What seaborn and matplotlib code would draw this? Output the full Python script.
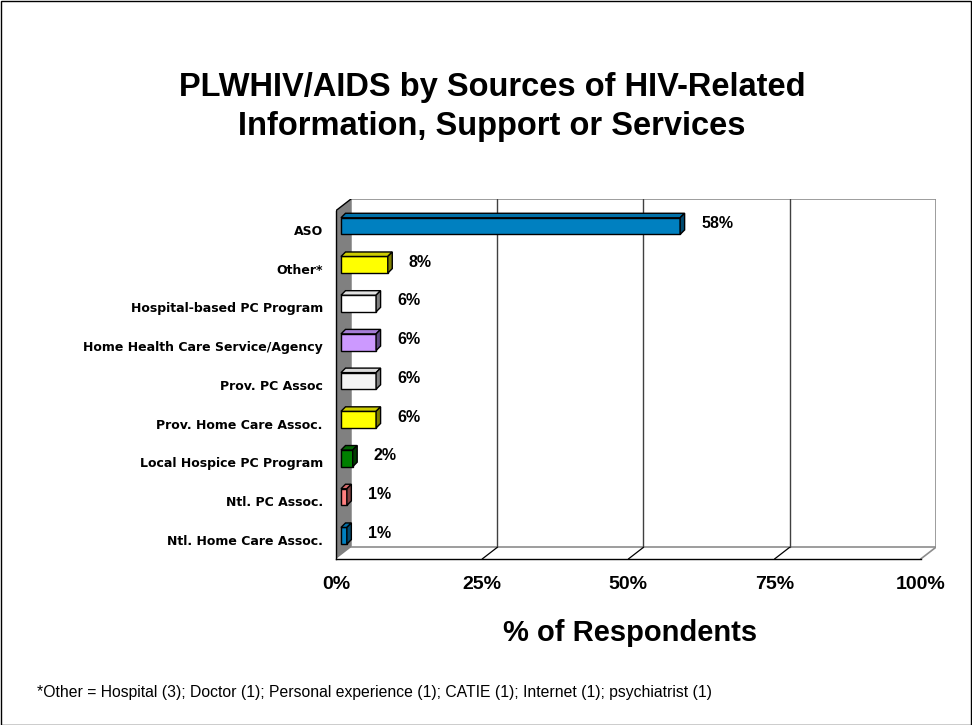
import numpy as np
import matplotlib
matplotlib.use("Agg")
import matplotlib.pyplot as plt
from matplotlib.patches import Polygon, Rectangle
from matplotlib.transforms import offset_copy
import seaborn as sns

# ---- data ----
categories = [
    "ASO",
    "Other*",
    "Hospital-based PC Program",
    "Home Health Care Service/Agency",
    "Prov. PC Assoc",
    "Prov. Home Care Assoc.",
    "Local Hospice PC Program",
    "Ntl. PC Assoc.",
    "Ntl. Home Care Assoc.",
]
percent = [58, 8, 6, 6, 6, 6, 2, 1, 1]
front_colors = ["#0080C0", "#FFFF00", "#FFFFFF", "#CC99FF", "#F3F3F3",
                "#FFFF00", "#008000", "#FF8080", "#0080C0"]
top_colors = ["#0070A8", "#CCCC00", "#E2E2E2", "#A67DD6", "#DADADA",
              "#CCCC00", "#006400", "#D46A6A", "#0070A8"]
side_colors = ["#004A70", "#808000", "#808080", "#5E4A80", "#808080",
               "#808000", "#003C00", "#804040", "#004A70"]
x_ticks = [0, 25, 50, 75, 100]
x_tick_labels = ["0%", "25%", "50%", "75%", "100%"]
title = "PLWHIV/AIDS by Sources of HIV-Related\nInformation, Support or Services"
x_title = "% of Respondents"
footnote = ("*Other = Hospital (3); Doctor (1); Personal experience (1); "
            "CATIE (1); Internet (1); psychiatrist (1)")

# ---- layout (pixels) ----
W, H = 972, 725
X0_PX, X100_PX = 336.0, 920.7        # front plane 0% and 100%
TOP_PX, BOTTOM_PX = 210.6, 559.0     # front plane category extent
WALL_D = (15.0, 11.6)                # depth of the 3-D box (right, up)
BAR_D = (4.5, 4.5)                   # depth of each bar block
BAR_POS = 1 / 3                      # bar front sits this far into the box

sns.set_style("white")
plt.rcParams["font.family"] = ["Liberation Sans", "DejaVu Sans"]
for key in ("text.color", "axes.labelcolor", "xtick.color", "ytick.color"):
    plt.rcParams[key] = "black"

fig = plt.figure(figsize=(W / 100, H / 100), dpi=100)
ax_w = X100_PX - X0_PX + WALL_D[0]
ax_h = BOTTOM_PX - TOP_PX + WALL_D[1]
ax = fig.add_axes([X0_PX / W, 1 - BOTTOM_PX / H, ax_w / W, ax_h / H])
ax.set_facecolor("none")

n = len(categories)
sx = (X100_PX - X0_PX) / 100.0
sy = (BOTTOM_PX - TOP_PX) / n


def dpx(px, py):
    """Pixel offset (right, up) -> data offset."""
    return px / sx, -py / sy


sns.barplot(x=percent, y=categories, hue=categories,
            palette=dict(zip(categories, front_colors)), orient="h",
            width=0.43, saturation=1, edgecolor="black", linewidth=1.0,
            legend=False, ax=ax)
bars = list(ax.patches)

ax.set_xlim(0, ax_w / sx)
ax.set_ylim(n - 0.5, n - 0.5 - ax_h / sy)
ax.autoscale(False)

# ---- 3-D box: back wall, floor, side wall ----
wdx, wdy = dpx(*WALL_D)
ax.add_patch(Rectangle((wdx, -0.5 + wdy), 100, n, facecolor="white",
                       edgecolor="#8C8C8C", lw=1.2, zorder=0.2))
for v in x_ticks[1:-1]:
    ax.plot([v + wdx] * 2, [-0.5 + wdy, n - 0.5 + wdy], color="#404040",
            lw=1.0, zorder=0.3)
    ax.plot([v, v + wdx], [n - 0.5, n - 0.5 + wdy], color="black",
            lw=0.9, zorder=0.3)
ax.plot([100, 100 + wdx], [n - 0.5, n - 0.5 + wdy], color="#8C8C8C",
        lw=1.2, zorder=0.3)
ax.add_patch(Polygon([(0, -0.5), (wdx, -0.5 + wdy), (wdx, n - 0.5 + wdy),
                      (0, n - 0.5)], closed=True, facecolor="#808080",
                     edgecolor="none", zorder=0.4))
ax.plot([0, wdx], [-0.5, -0.5 + wdy], color="black", lw=1.0, zorder=0.5)

# ---- bars as blocks ----
shift = offset_copy(ax.transData, fig=fig, x=WALL_D[0] * BAR_POS,
                    y=WALL_D[1] * BAR_POS, units="dots")
bdx, bdy = dpx(*BAR_D)
for p in bars:
    p.set_transform(shift)
    p.set_zorder(3)
    x0, w = p.get_x(), p.get_width()
    y0, h = p.get_y(), p.get_height()
    i = int(round(y0 + h / 2))
    top = Polygon([(x0, y0), (x0 + w, y0), (x0 + w + bdx, y0 + bdy),
                   (x0 + bdx, y0 + bdy)], closed=True,
                  facecolor=top_colors[i], edgecolor="black", lw=1.0,
                  transform=shift, zorder=3)
    side = Polygon([(x0 + w, y0), (x0 + w + bdx, y0 + bdy),
                    (x0 + w + bdx, y0 + h + bdy), (x0 + w, y0 + h)],
                   closed=True, facecolor=side_colors[i], edgecolor="black",
                   lw=1.0, transform=shift, zorder=3)
    ax.add_patch(top)
    ax.add_patch(side)

for i, v in enumerate(percent):
    ax.annotate(f"{v}%", xy=(v, i), xytext=(26, 6.5),
                textcoords="offset pixels", ha="left", va="center",
                fontsize=11.5, fontweight="bold", color="black", zorder=4)

# ---- axes ----
ax.set_xlabel("")
ax.set_ylabel("")
ax.grid(False)
for s in ("top", "right"):
    ax.spines[s].set_visible(False)
ax.spines["left"].set_bounds(-0.5, n - 0.5)
ax.spines["bottom"].set_bounds(0, 100)
for s in ("left", "bottom"):
    ax.spines[s].set_color("black")
    ax.spines[s].set_linewidth(1.0)
    ax.spines[s].set_zorder(2)

ax.set_yticks(range(n))
ax.set_yticklabels(categories, fontsize=9, fontweight="bold",
                   family="DejaVu Sans")
ax.set_yticks(np.arange(-0.5, n), minor=True)
ax.tick_params(axis="y", which="major", length=0, pad=9.5)
ax.tick_params(axis="y", which="minor", length=4.3, width=1.0,
               color="black", direction="out")
ax.set_xticks(x_ticks)
ax.set_xticklabels(x_tick_labels, fontsize=14, fontweight="bold")
ax.tick_params(axis="x", length=5, width=1.0, color="black",
               direction="out", pad=7)

# ---- figure texts ----
fig.text(492 / W, 1 - 107 / H, title, ha="center", va="center",
         fontsize=23.5, fontweight="bold", linespacing=1.3)
fig.text(630 / W, 1 - 633 / H, x_title, ha="center", va="center",
         fontsize=21, fontweight="bold")
fig.text(37 / W, 1 - 693 / H, footnote, ha="left", va="center",
         fontsize=11.3, family=["Liberation Sans Narrow", "Liberation Sans"])

fig.add_artist(Rectangle((0.5 / W, 0.5 / H), 1 - 1.5 / W, 1 - 1.5 / H,
                         transform=fig.transFigure, fill=False,
                         edgecolor="black", lw=1.0))

fig.savefig("out.png", dpi=100)
